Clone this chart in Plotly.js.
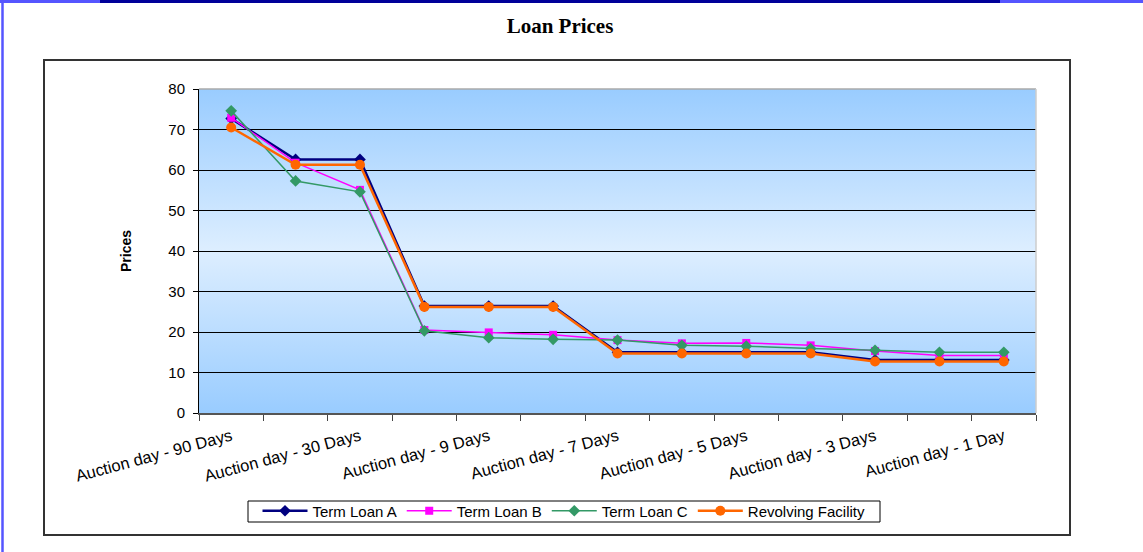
<!DOCTYPE html>
<html>
<head>
<meta charset="utf-8">
<script src="https://cdn.plot.ly/plotly-3.0.1.min.js"></script>
<style>html,body{margin:0;padding:0;background:#fff;}#chart{width:1143px;height:552px;}</style>
</head>
<body>
<div id="chart"></div>
<script>
// ---- data ----
const categories = [
  "Auction day - 90 Days", "Auction day - 60 Days", "Auction day - 30 Days", "Auction day - 10 Days",
  "Auction day - 9 Days", "Auction day - 8 Days", "Auction day - 7 Days", "Auction day - 6 Days",
  "Auction day - 5 Days", "Auction day - 4 Days", "Auction day - 3 Days", "Auction day - 2 Days",
  "Auction day - 1 Day"
];
const shownLabels = [
  "Auction day - 90 Days", "Auction day - 30 Days", "Auction day - 9 Days", "Auction day - 7 Days",
  "Auction day - 5 Days", "Auction day - 3 Days", "Auction day - 1 Day"
];
const termLoanA = [72.7, 62.6, 62.6, 26.4, 26.4, 26.4, 15.0, 15.0, 15.0, 15.0, 13.1, 13.1, 13.1];
const termLoanB = [72.9, 61.8, 55.1, 20.5, 19.9, 19.3, 18.0, 17.2, 17.3, 16.7, 15.3, 14.2, 14.2];
const termLoanC = [74.6, 57.3, 54.6, 20.3, 18.6, 18.2, 18.0, 16.7, 16.5, 15.9, 15.5, 15.0, 15.0];
const revolving = [70.5, 61.3, 61.3, 26.2, 26.2, 26.2, 14.7, 14.7, 14.7, 14.7, 12.7, 12.7, 12.7];

// ---- geometry helpers (pixel -> paper) ----
const W = 1143, H = 552, L = 199, R = 1036, T = 89, B = 413;
const px = x => (x - L) / (R - L);
const py = y => (B - y) / (B - T);

const ticktext = categories.map(c => shownLabels.includes(c) ? c : "");

const traces = [
  {name: "Term Loan A", y: termLoanA, color: "#000080", symbol: "diamond", size: 9, width: 2.5},
  {name: "Term Loan B", y: termLoanB, color: "#FF00FF", symbol: "square", size: 8, width: 1.5},
  {name: "Term Loan C", y: termLoanC, color: "#339966", symbol: "diamond", size: 9, width: 1.5},
  {name: "Revolving Facility", y: revolving, color: "#FF6600", symbol: "circle", size: 10, width: 2.5}
].map(s => ({
  type: "scatter", mode: "lines+markers", name: s.name, x: categories, y: s.y,
  line: {color: s.color, width: s.width},
  marker: {color: s.color, symbol: s.symbol, size: s.size, line: {width: 0}},
  hoverinfo: "x+y+name"
}));

const gradSvg = '<svg xmlns="http://www.w3.org/2000/svg" width="100" height="100" preserveAspectRatio="none">' +
  '<defs><linearGradient id="g" x1="0" y1="0" x2="0" y2="1">' +
  '<stop offset="0" stop-color="#99CCFF"/><stop offset="0.5" stop-color="#DDEEFF"/><stop offset="1" stop-color="#99CCFF"/>' +
  '</linearGradient></defs><rect width="100" height="100" fill="url(#g)"/></svg>';

const layout = {
  width: W, height: H,
  margin: {l: L, r: W - R, t: T, b: H - B, pad: 0},
  paper_bgcolor: "#ffffff",
  plot_bgcolor: "rgba(0,0,0,0)",
  font: {family: "Arial, Liberation Sans, sans-serif", size: 14, color: "#000"},
  title: {
    text: "<b>Loan Prices</b>",
    font: {family: "Times New Roman, Liberation Serif, serif", size: 21, color: "#000"},
    x: (560) / W, xanchor: "center", xref: "container",
    y: 1 - 26 / H, yanchor: "middle", yref: "container"
  },
  showlegend: true,
  legend: {
    orientation: "h", x: px(564), xanchor: "center", y: py(511), yanchor: "middle",
    borderwidth: 0, bgcolor: "rgba(0,0,0,0)",
    font: {family: "Arial, Liberation Sans, sans-serif", size: 15, color: "#000"},
    itemwidth: 45, tracegroupgap: 0
  },
  xaxis: {
    type: "category", tickmode: "array", tickvals: categories, ticktext: ticktext,
    tickson: "boundaries", ticks: "outside", ticklen: 6, tickcolor: "#444", tickwidth: 1,
    tickangle: -15, ticklabelstandoff: 6,
    tickfont: {family: "Arial, Liberation Sans, sans-serif", size: 16.5, color: "#000"},
    showline: true, linecolor: "#555", linewidth: 1.5,
    showgrid: false, zeroline: false, automargin: false,
    range: [-0.5, categories.length - 0.5]
  },
  yaxis: {
    range: [0, 80], tickmode: "linear", tick0: 0, dtick: 10,
    ticks: "outside", ticklen: 5, tickcolor: "#000", tickwidth: 1,
    tickfont: {family: "Arial, Liberation Sans, sans-serif", size: 15, color: "#000"},
    ticklabelstandoff: 5,
    showline: true, linecolor: "#000", linewidth: 1,
    showgrid: true, gridcolor: "#000", gridwidth: 1, zeroline: false, automargin: false
  },
  images: [{
    source: "data:image/svg+xml;charset=utf-8," + encodeURIComponent(gradSvg),
    xref: "paper", yref: "paper", x: 0, y: 1, sizex: 1, sizey: 1,
    xanchor: "left", yanchor: "top", sizing: "stretch", layer: "below"
  }],
  annotations: [{
    text: "<b>Prices</b>", textangle: -90, showarrow: false,
    xref: "paper", yref: "paper", x: px(126), y: 0.5, xanchor: "center", yanchor: "middle",
    font: {family: "Arial, Liberation Sans, sans-serif", size: 14, color: "#000"}
  }],
  shapes: [
    // plot area top and right borders
    {type: "line", xref: "paper", yref: "paper", x0: 0, x1: 1, y0: 1, y1: 1, line: {color: "#aaaaaa", width: 1.5}},
    {type: "line", xref: "paper", yref: "paper", x0: 1, x1: 1, y0: 0, y1: 1, line: {color: "#cccccc", width: 1.5}},
    // inner chart box
    {type: "rect", xref: "paper", yref: "paper", x0: px(44), x1: px(1070), y0: py(535), y1: py(60),
     line: {color: "#333333", width: 2}, fillcolor: "rgba(0,0,0,0)"},
    // legend box
    {type: "rect", xref: "paper", yref: "paper", x0: px(248), x1: px(880), y0: py(522), y1: py(501),
     line: {color: "#000000", width: 1}, fillcolor: "#ffffff"},
    // outer frame
    {type: "line", xref: "paper", yref: "paper", x0: px(2.5), x1: px(2.5), y0: py(0), y1: py(552), line: {color: "#5555FF", width: 2.5}},
    {type: "line", xref: "paper", yref: "paper", x0: px(0), x1: px(100), y0: py(1.5), y1: py(1.5), line: {color: "#5555FF", width: 3}},
    {type: "line", xref: "paper", yref: "paper", x0: px(100), x1: px(1000), y0: py(1.5), y1: py(1.5), line: {color: "#000099", width: 3}},
    {type: "line", xref: "paper", yref: "paper", x0: px(1000), x1: px(1143), y0: py(1.5), y1: py(1.5), line: {color: "#5555FF", width: 3}}
  ]
};

Plotly.newPlot("chart", traces, layout, {displayModeBar: false, staticPlot: true});
</script>
</body>
</html>
